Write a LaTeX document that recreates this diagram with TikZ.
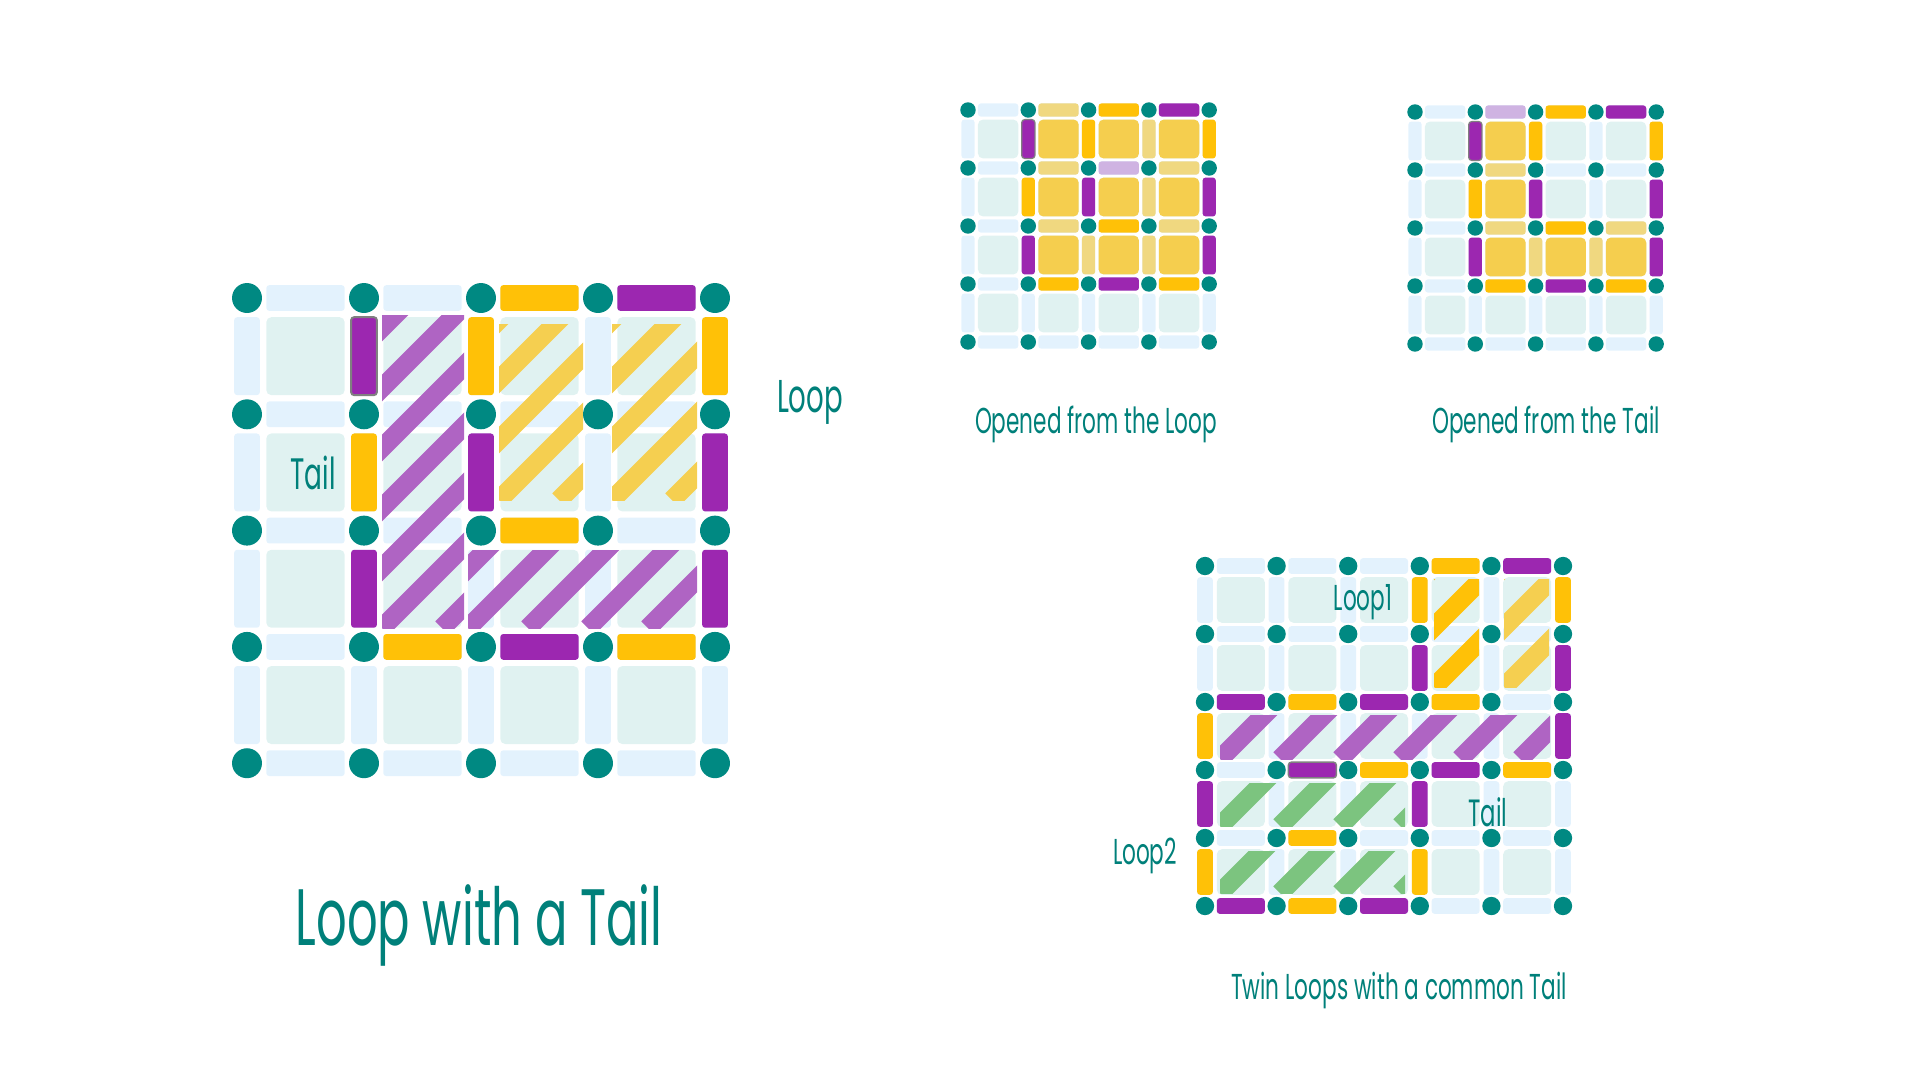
\documentclass[tikz,border=0pt]{standalone}
\usepackage{fontspec}
\newfontfamily\ff[FakeStretch=0.6]{Poppins}
\definecolor{dotc}{RGB}{0,137,130}
\definecolor{txt}{RGB}{0,128,122}
\definecolor{lblue}{RGB}{227,242,253}
\definecolor{cellc}{RGB}{224,242,241}
\definecolor{yel}{RGB}{255,193,7}
\definecolor{pur}{RGB}{156,39,176}
\definecolor{purH}{RGB}{175,100,195}
\definecolor{yelH}{RGB}{245,207,80}
\definecolor{grnH}{RGB}{124,196,127}
\definecolor{yelC}{RGB}{245,206,78}
\definecolor{pyel}{RGB}{240,216,128}
\definecolor{ppur}{RGB}{207,179,226}
\tikzset{lbl/.style={text=txt,font=\ff,inner sep=0pt}}
\newcommand\setgrid[4]{\def\gx{#1}\def\gy{#2}\def\gsx{#3}\def\gsy{#4}}
\newcommand\HE[4][]{\fill[#2,rounded corners=3pt,#1] ({\gx+(#3)*\gsx+0.165*\gsx},{\gy+(#4)*\gsy-0.11*\gsx}) rectangle ({\gx+(#3+1)*\gsx-0.165*\gsx},{\gy+(#4)*\gsy+0.11*\gsx});}
\newcommand\VE[4][]{\fill[#2,rounded corners=3pt,#1] ({\gx+(#3)*\gsx-0.11*\gsx},{\gy+(#4)*\gsy+0.165*\gsy}) rectangle ({\gx+(#3)*\gsx+0.11*\gsx},{\gy+(#4+1)*\gsy-0.165*\gsy});}
\newcommand\CE[3]{\fill[#1,rounded corners=5pt] ({\gx+(#2)*\gsx+0.165*\gsx},{\gy+(#3)*\gsy+0.165*\gsy}) rectangle ({\gx+(#2+1)*\gsx-0.165*\gsx},{\gy+(#3+1)*\gsy-0.165*\gsy});}
\newcommand\basegrid[1]{% last index
 \foreach \i in {0,...,#1}{\foreach \j in {0,...,#1}{
   \ifnum\i<#1 \HE{lblue}{\i}{\j}\fi
   \ifnum\j<#1 \VE{lblue}{\i}{\j}\fi
   \ifnum\i<#1 \ifnum\j<#1 \CE{cellc}{\i}{\j}\fi\fi}}}
\newcommand\griddots[1]{\foreach \i in {0,...,#1}{\foreach \j in {0,...,#1}{
   \fill[dotc] ({\gx+\i*\gsx},{\gy+\j*\gsy}) circle[radius={0.128*\gsx}];}}}
% hatch x1 y1 x2 y2 color
\newcommand\hatch[5]{\begin{scope}\clip (#1,#2) rectangle (#3,#4);
  \pgfmathsetmacro\hh{#4-#2}
  \foreach \k in {-12,...,12}{\draw[#5,line width=19pt] ({#1+\k*60},#4) -- ++(\hh+40,-\hh-40);}
  \end{scope}}
\begin{document}
\begin{tikzpicture}[x=1pt,y=-1pt]
\useasboundingbox (0,0) rectangle (1920,1080);
% ---------- Grid 1
\setgrid{247}{298}{117}{116.3}
\basegrid{4}
\hatch{382}{315}{464}{628}{purH}
\hatch{468}{550}{697}{628}{purH}
\hatch{499}{324}{583}{500}{yelH}
\hatch{612}{324}{697}{500}{yelH}
\HE{yel}{2}{0}\HE{pur}{3}{0}\HE{yel}{2}{2}
\HE{yel}{1}{3}\HE{pur}{2}{3}\HE{yel}{3}{3}
\VE[draw=gray,line width=2pt]{pur}{1}{0}\VE{yel}{2}{0}\VE{yel}{4}{0}
\VE{yel}{1}{1}\VE{pur}{2}{1}\VE{pur}{4}{1}
\VE{pur}{1}{2}\VE{pur}{4}{2}
\griddots{4}
\node[lbl,font=\ff\fontsize{44}{44}\selectfont] (tail1) at (313,473) {Tail};
\node[lbl,font=\ff\fontsize{46}{46}\selectfont] (loop1) at (810,402) {Loop};
\node[lbl,font=\ff\fontsize{80}{80}\selectfont] (title) at (479,925) {Loop with a Tail};
% ---------- Grid A
\setgrid{968}{110}{60.3}{58}
\basegrid{4}
\foreach \i in {1,2,3}{\foreach \j in {0,1,2}{\CE{yelC}{\i}{\j}}}
\HE{pyel}{1}{0}\HE{yel}{2}{0}\HE{pur}{3}{0}
\HE{pyel}{1}{1}\HE{ppur}{2}{1}\HE{pyel}{3}{1}
\HE{pyel}{1}{2}\HE{yel}{2}{2}\HE{pyel}{3}{2}
\HE{yel}{1}{3}\HE{pur}{2}{3}\HE{yel}{3}{3}
\VE[draw=gray,line width=1.2pt]{pur}{1}{0}\VE{yel}{2}{0}\VE{pyel}{3}{0}\VE{yel}{4}{0}
\VE{yel}{1}{1}\VE{pur}{2}{1}\VE{pyel}{3}{1}\VE{pur}{4}{1}
\VE{pur}{1}{2}\VE{pyel}{2}{2}\VE{pyel}{3}{2}\VE{pur}{4}{2}
\griddots{4}
\node[lbl,font=\ff\fontsize{36}{36}\selectfont] (capA) at (1096,424) {Opened from the Loop};
% ---------- Grid B
\setgrid{1415}{112}{60.3}{58}
\basegrid{4}
\CE{yelC}{1}{0}\CE{yelC}{1}{1}\CE{yelC}{1}{2}\CE{yelC}{2}{2}\CE{yelC}{3}{2}
\HE{ppur}{1}{0}\HE{yel}{2}{0}\HE{pur}{3}{0}
\HE{pyel}{1}{1}
\HE{pyel}{1}{2}\HE{yel}{2}{2}\HE{pyel}{3}{2}
\HE{yel}{1}{3}\HE{pur}{2}{3}\HE{yel}{3}{3}
\VE[draw=gray,line width=1.2pt]{pur}{1}{0}\VE{yel}{2}{0}\VE{yel}{4}{0}
\VE{yel}{1}{1}\VE{pur}{2}{1}\VE{pur}{4}{1}
\VE{pur}{1}{2}\VE{pyel}{2}{2}\VE{pyel}{3}{2}\VE{pur}{4}{2}
\griddots{4}
\node[lbl,font=\ff\fontsize{36}{36}\selectfont] (capB) at (1546,424) {Opened from the Tail};
% ---------- Grid C
\setgrid{1205}{566}{71.6}{68}
\basegrid{5}
\hatch{1434}{579}{1479}{687}{yel}
\hatch{1504}{579}{1549}{687}{yelH}
\hatch{1220}{715}{1550}{759}{purH}
\hatch{1220}{783}{1405}{826}{grnH}
\hatch{1220}{851}{1405}{893}{grnH}
\HE{yel}{3}{0}\HE{pur}{4}{0}
\HE{pur}{0}{2}\HE{yel}{1}{2}\HE{pur}{2}{2}\HE{yel}{3}{2}
\HE[draw=gray,line width=1.5pt]{pur}{1}{3}\HE{yel}{2}{3}\HE{pur}{3}{3}\HE{yel}{4}{3}
\HE{yel}{1}{4}
\HE{pur}{0}{5}\HE{yel}{1}{5}\HE{pur}{2}{5}
\VE{yel}{3}{0}\VE{yel}{5}{0}
\VE{pur}{3}{1}\VE{pur}{5}{1}
\VE{yel}{0}{2}\VE{pur}{5}{2}
\VE{pur}{0}{3}\VE{pur}{3}{3}
\VE{yel}{0}{4}\VE{yel}{3}{4}
\griddots{5}
\node[lbl,font=\ff\fontsize{36}{36}\selectfont] (l1) at (1363,602) {Loop1};
\node[lbl,font=\ff\fontsize{38}{38}\selectfont] (tC) at (1488,812) {Tail};
\node[lbl,font=\ff\fontsize{36}{36}\selectfont] (l2) at (1145,856) {Loop2};
\node[lbl,font=\ff\fontsize{36}{36}\selectfont] (capC) at (1399,990) {Twin Loops with a common Tail};
\end{tikzpicture}
\end{document}
